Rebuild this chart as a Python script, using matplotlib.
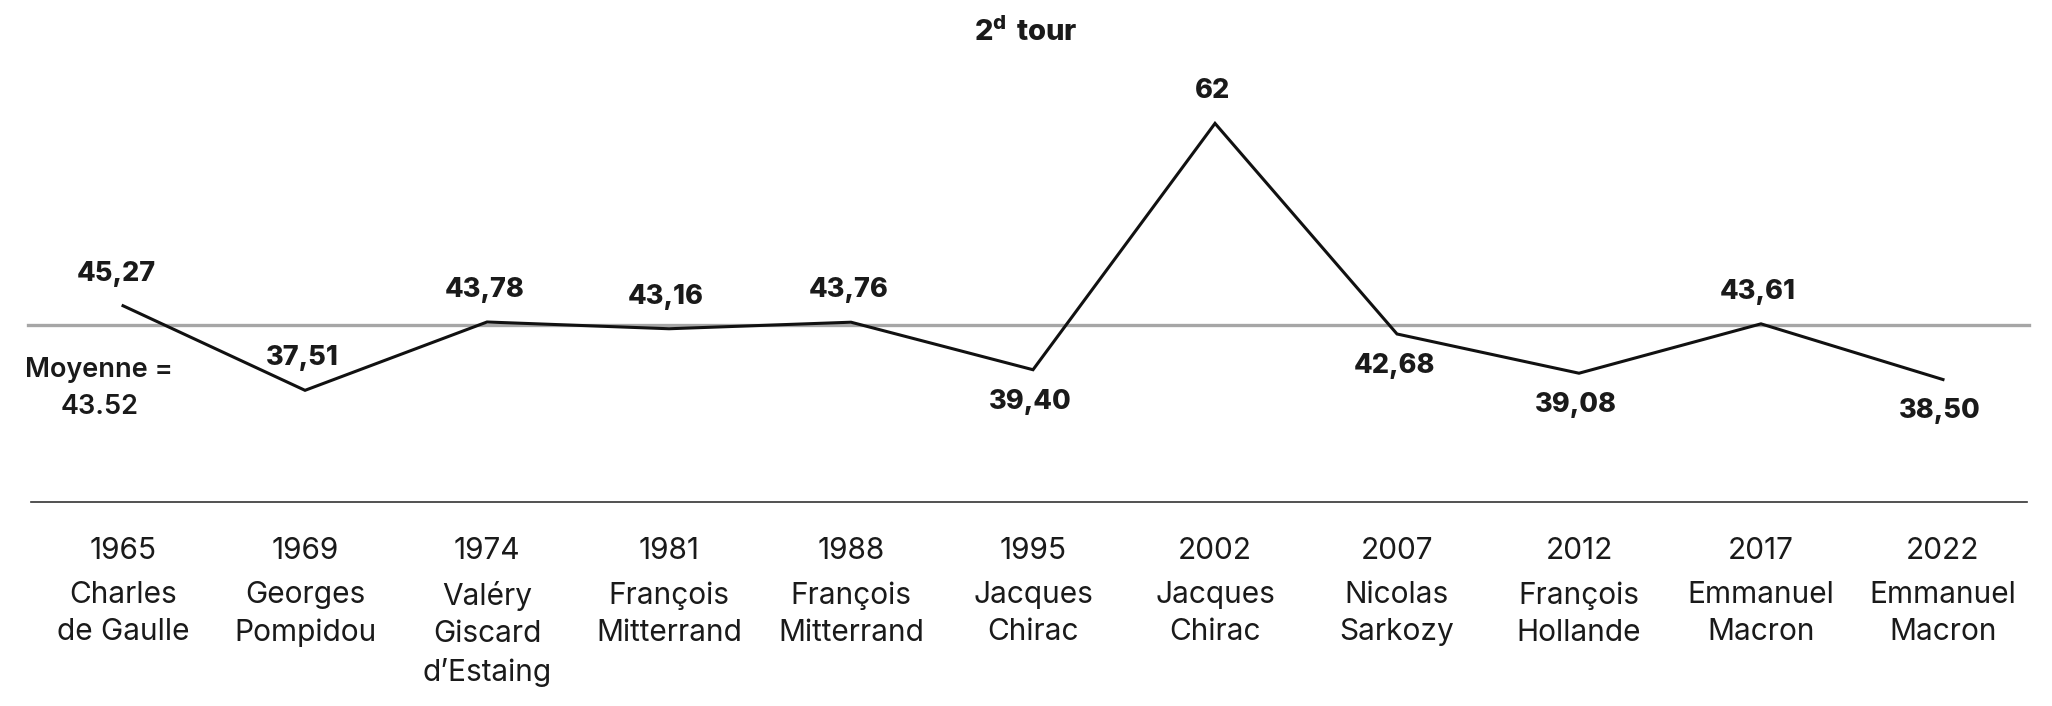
import matplotlib.pyplot as plt
from matplotlib.lines import Line2D

plt.rcParams['font.family'] = ['Inter', 'DejaVu Sans']
plt.rcParams['mathtext.fontset'] = 'custom'
plt.rcParams['mathtext.rm'] = 'Inter'
plt.rcParams['mathtext.bf'] = 'Inter:weight=heavy'

# données : abstention au 2nd tour des présidentielles
annees = ['1965', '1969', '1974', '1981', '1988', '1995', '2002', '2007', '2012', '2017', '2022']
candidats = ['Charles\nde Gaulle', 'Georges\nPompidou', 'Valéry\nGiscard\nd\u2019Estaing',
             'François\nMitterrand', 'François\nMitterrand', 'Jacques\nChirac', 'Jacques\nChirac',
             'Nicolas\nSarkozy', 'François\nHollande', 'Emmanuel\nMacron', 'Emmanuel\nMacron']
valeurs = [45.27, 37.51, 43.78, 43.16, 43.76, 39.40, 62, 42.68, 39.08, 43.61, 38.50]
etiquettes = ['45,27', '37,51', '43,78', '43,16', '43,76', '39,40', '62', '42,68', '39,08', '43,61', '38,50']
moyenne = 43.52

# placement des étiquettes (au-dessus / en dessous du point)
cote = ['haut', 'haut', 'haut', 'haut', 'haut', 'bas', 'haut', 'bas', 'bas', 'haut', 'bas']

fig = plt.figure(figsize=(20.52, 7.06), dpi=100)
ax = fig.add_axes([0, 0, 1, 1])
ax.set_xlim(-0.676, 10.599)
ax.set_ylim(8.55, 73.32)
ax.axis('off')

x = list(range(len(valeurs)))

# ligne de la moyenne
ax.plot([-0.52, 10.47], [moyenne, moyenne], color='#a6a6a6', lw=2.4, zorder=1)
ax.text(-0.13, moyenne - 5.8, 'Moyenne =\n' + str(moyenne), ha='center', va='center',
        fontsize=19.5, fontweight='semibold', linespacing=1.55, color='#1a1a1a')

ax.plot(x, valeurs, color='#111111', lw=2.2, zorder=3, solid_joinstyle='miter')

for i, v in enumerate(valeurs):
    dy = 23 if cote[i] == 'haut' else -23
    dx = -5 if i == 0 else -2
    ax.annotate(etiquettes[i], (i, v), xytext=(dx, dy), textcoords='offset points',
                ha='center', va='center', fontsize=19.5, fontweight='heavy', color='#1a1a1a')

# axe du bas
fig.add_artist(Line2D([0.0153, 0.988], [0.289, 0.289], color='#333333', lw=1.2))

for i in x:
    ax.text(i, 0.2195, annees[i], transform=ax.get_xaxis_transform(), ha='center', va='center',
            fontsize=21.5, color='#1a1a1a')
    ax.text(i, 0.177, candidats[i], transform=ax.get_xaxis_transform(), ha='center', va='top',
            fontsize=21.5, color='#1a1a1a', linespacing=1.42)

fig.text(0.5, 0.955, r'$\mathbf{2^{d}\ tour}$', ha='center', va='center', fontsize=21, color='#1a1a1a')

fig.savefig('out.png', dpi=100)
